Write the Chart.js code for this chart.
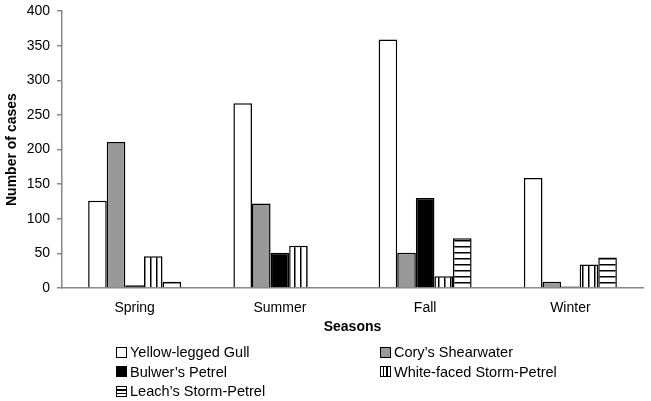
<!DOCTYPE html>
<html>
<head>
<meta charset="utf-8">
<script src="https://cdn.jsdelivr.net/npm/chart.js@4"></script>
<style>
  html, body { margin: 0; padding: 0; background: #fff; }
  #wrap { position: relative; width: 651px; height: 401px; }
  #legend { position: absolute; left: 116px; top: 343px; font-family: "Liberation Sans", Arial, sans-serif; font-size: 14.5px; color: #000; display: grid; grid-template-columns: 264px 260px; row-gap: 1px; }
  .item { display: flex; align-items: center; height: 18.5px; white-space: nowrap; }
  .box { width: 9px; height: 9px; border: 1.5px solid #000; margin-right: 3px; box-sizing: content-box; }
</style>
</head>
<body>
<div id="wrap">
  <canvas id="c" width="651" height="401"></canvas>
  <div id="legend"></div>
</div>
<script>
const categories = ["Spring", "Summer", "Fall", "Winter"];
const seriesNames = ["Yellow-legged Gull", "Cory\u2019s Shearwater", "Bulwer\u2019s Petrel", "White-faced Storm-Petrel", "Leach\u2019s Storm-Petrel"];
const yellowLeggedGull = [126, 267, 359, 159];
const corysShearwater = [211, 122, 51, 9];
const bulwersPetrel = [4, 51, 130, 2];
const whiteFacedStormPetrel = [46, 61, 17, 34];
const leachsStormPetrel = [9, 0, 72, 44];
const yTicks = [0, 50, 100, 150, 200, 250, 300, 350, 400];

function stripePattern(vertical) {
  const p = document.createElement('canvas');
  p.width = 6; p.height = 6;
  const g = p.getContext('2d');
  g.fillStyle = '#fff'; g.fillRect(0, 0, 6, 6);
  g.fillStyle = '#000';
  if (vertical) g.fillRect(0, 0, 1.5, 6); else g.fillRect(0, 0, 6, 1.5);
  return document.getElementById('c').getContext('2d').createPattern(p, 'repeat');
}
const vStripes = stripePattern(true);
const hStripes = stripePattern(false);

const fills = ['#ffffff', '#999999', '#000000', vStripes, hStripes];
const values = [yellowLeggedGull, corysShearwater, bulwersPetrel, whiteFacedStormPetrel, leachsStormPetrel];

const datasets = seriesNames.map((n, i) => ({
  label: n,
  data: values[i],
  backgroundColor: fills[i],
  borderColor: '#000',
  borderWidth: 1.5,
  borderSkipped: 'bottom',
  categoryPercentage: 0.64,
  barPercentage: 1.0
}));

const font = { family: '"Liberation Sans", Arial, sans-serif', size: 14 };

new Chart(document.getElementById('c'), {
  type: 'bar',
  data: { labels: categories, datasets },
  options: {
    responsive: false,
    animation: false,
    layout: { padding: { top: 0, right: 8, bottom: 65, left: 0 } },
    plugins: { legend: { display: false }, tooltip: { enabled: false } },
    scales: {
      x: {
        afterFit: s => { s.height = 48; },
        grid: { display: false, drawTicks: false },
        border: { color: '#888', width: 1.5 },
        ticks: { color: '#000', font: { ...font, lineHeight: 1.0 }, padding: 13 },
        title: { display: true, text: 'Seasons', color: '#000', font: { ...font, weight: 'bold' }, padding: { top: 0, bottom: 0 } }
      },
      y: {
        afterFit: s => { s.width = 62; },
        min: 0, max: 400,
        afterBuildTicks: s => { s.ticks = yTicks.map(v => ({ value: v })); },
        grid: { drawOnChartArea: false, drawTicks: true, tickLength: 5, color: '#888', lineWidth: 1.5 },
        border: { color: '#888', width: 1.5 },
        ticks: { color: '#000', font: { ...font, lineHeight: 0.6 }, padding: 7 },
        title: { display: true, text: 'Number of cases', color: '#000', font: { ...font, weight: 'bold' }, padding: { top: 4, bottom: 0 } }
      }
    }
  }
});

// HTML legend
const leg = document.getElementById('legend');
const swatch = ['#ffffff', '#999999', '#000000',
  'repeating-linear-gradient(90deg, #fff 0 2px, #000 2px 3.5px)',
  'repeating-linear-gradient(0deg, #fff 0 2px, #000 2px 3.5px)'];
seriesNames.forEach((n, i) => {
  const d = document.createElement('div'); d.className = 'item';
  const b = document.createElement('span'); b.className = 'box'; b.style.background = swatch[i];
  d.appendChild(b);
  d.appendChild(document.createTextNode(n));
  leg.appendChild(d);
});
</script>
</body>
</html>
